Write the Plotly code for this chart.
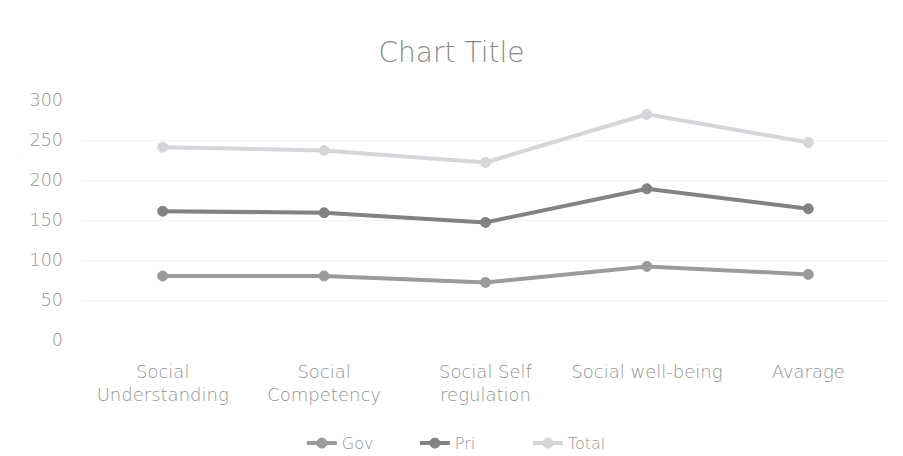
import plotly.graph_objects as go

categories = ["Social<br>Understanding", "Social<br>Competency", "Social Self<br>regulation",
              "Social well-being", "Avarage"]
gov = [80, 80, 72, 92, 82]
pri = [161, 159, 147, 189, 164]
total = [241, 237, 222, 282, 247]

series = [
    ("Gov", gov, "#9b9b9b"),
    ("Pri", pri, "#828282"),
    ("Total", total, "#d6d6da"),
]

fig = go.Figure()
for name, vals, col in series:
    fig.add_trace(go.Scatter(
        x=categories, y=vals, name=name, mode="lines+markers",
        line=dict(color=col, width=4),
        marker=dict(symbol="circle", size=10, color=col,
                    line=dict(color=col, width=1)),
    ))

txt = "#939393"
family = "DejaVu Sans, sans-serif"
fig.update_layout(
    width=903, height=456,
    paper_bgcolor="white", plot_bgcolor="white",
    margin=dict(l=82, r=14, t=100, b=116, autoexpand=False),
    font=dict(family=family, size=16, color=txt, weight=200),
    title=dict(text="Chart Title", x=0.5, xanchor="center", y=0.885, yanchor="middle",
               font=dict(family=family, size=28, color="#8a8a8a", weight=200)),
    xaxis=dict(range=[-0.5, 4.5], showgrid=False, showline=False, zeroline=False, ticks="",
               automargin=False, ticklabelstandoff=19,
               tickfont=dict(family=family, size=18, color=txt, weight=200)),
    yaxis=dict(range=[0, 300], dtick=50, showgrid=True, gridcolor="#f4f4f4",
               automargin=False, zeroline=False, showline=False, ticks="",
               ticklabelstandoff=18,
               tickfont=dict(family=family, size=17.5, color=txt, weight=200)),
    legend=dict(orientation="h", xref="container", x=0.522, xanchor="center",
                y=-0.43, yanchor="middle",
                font=dict(family=family, size=16, color=txt, weight=200),
                entrywidth=68, entrywidthmode="pixels", tracegroupgap=0),
    showlegend=True,
)

fig.write_html("out.html")
